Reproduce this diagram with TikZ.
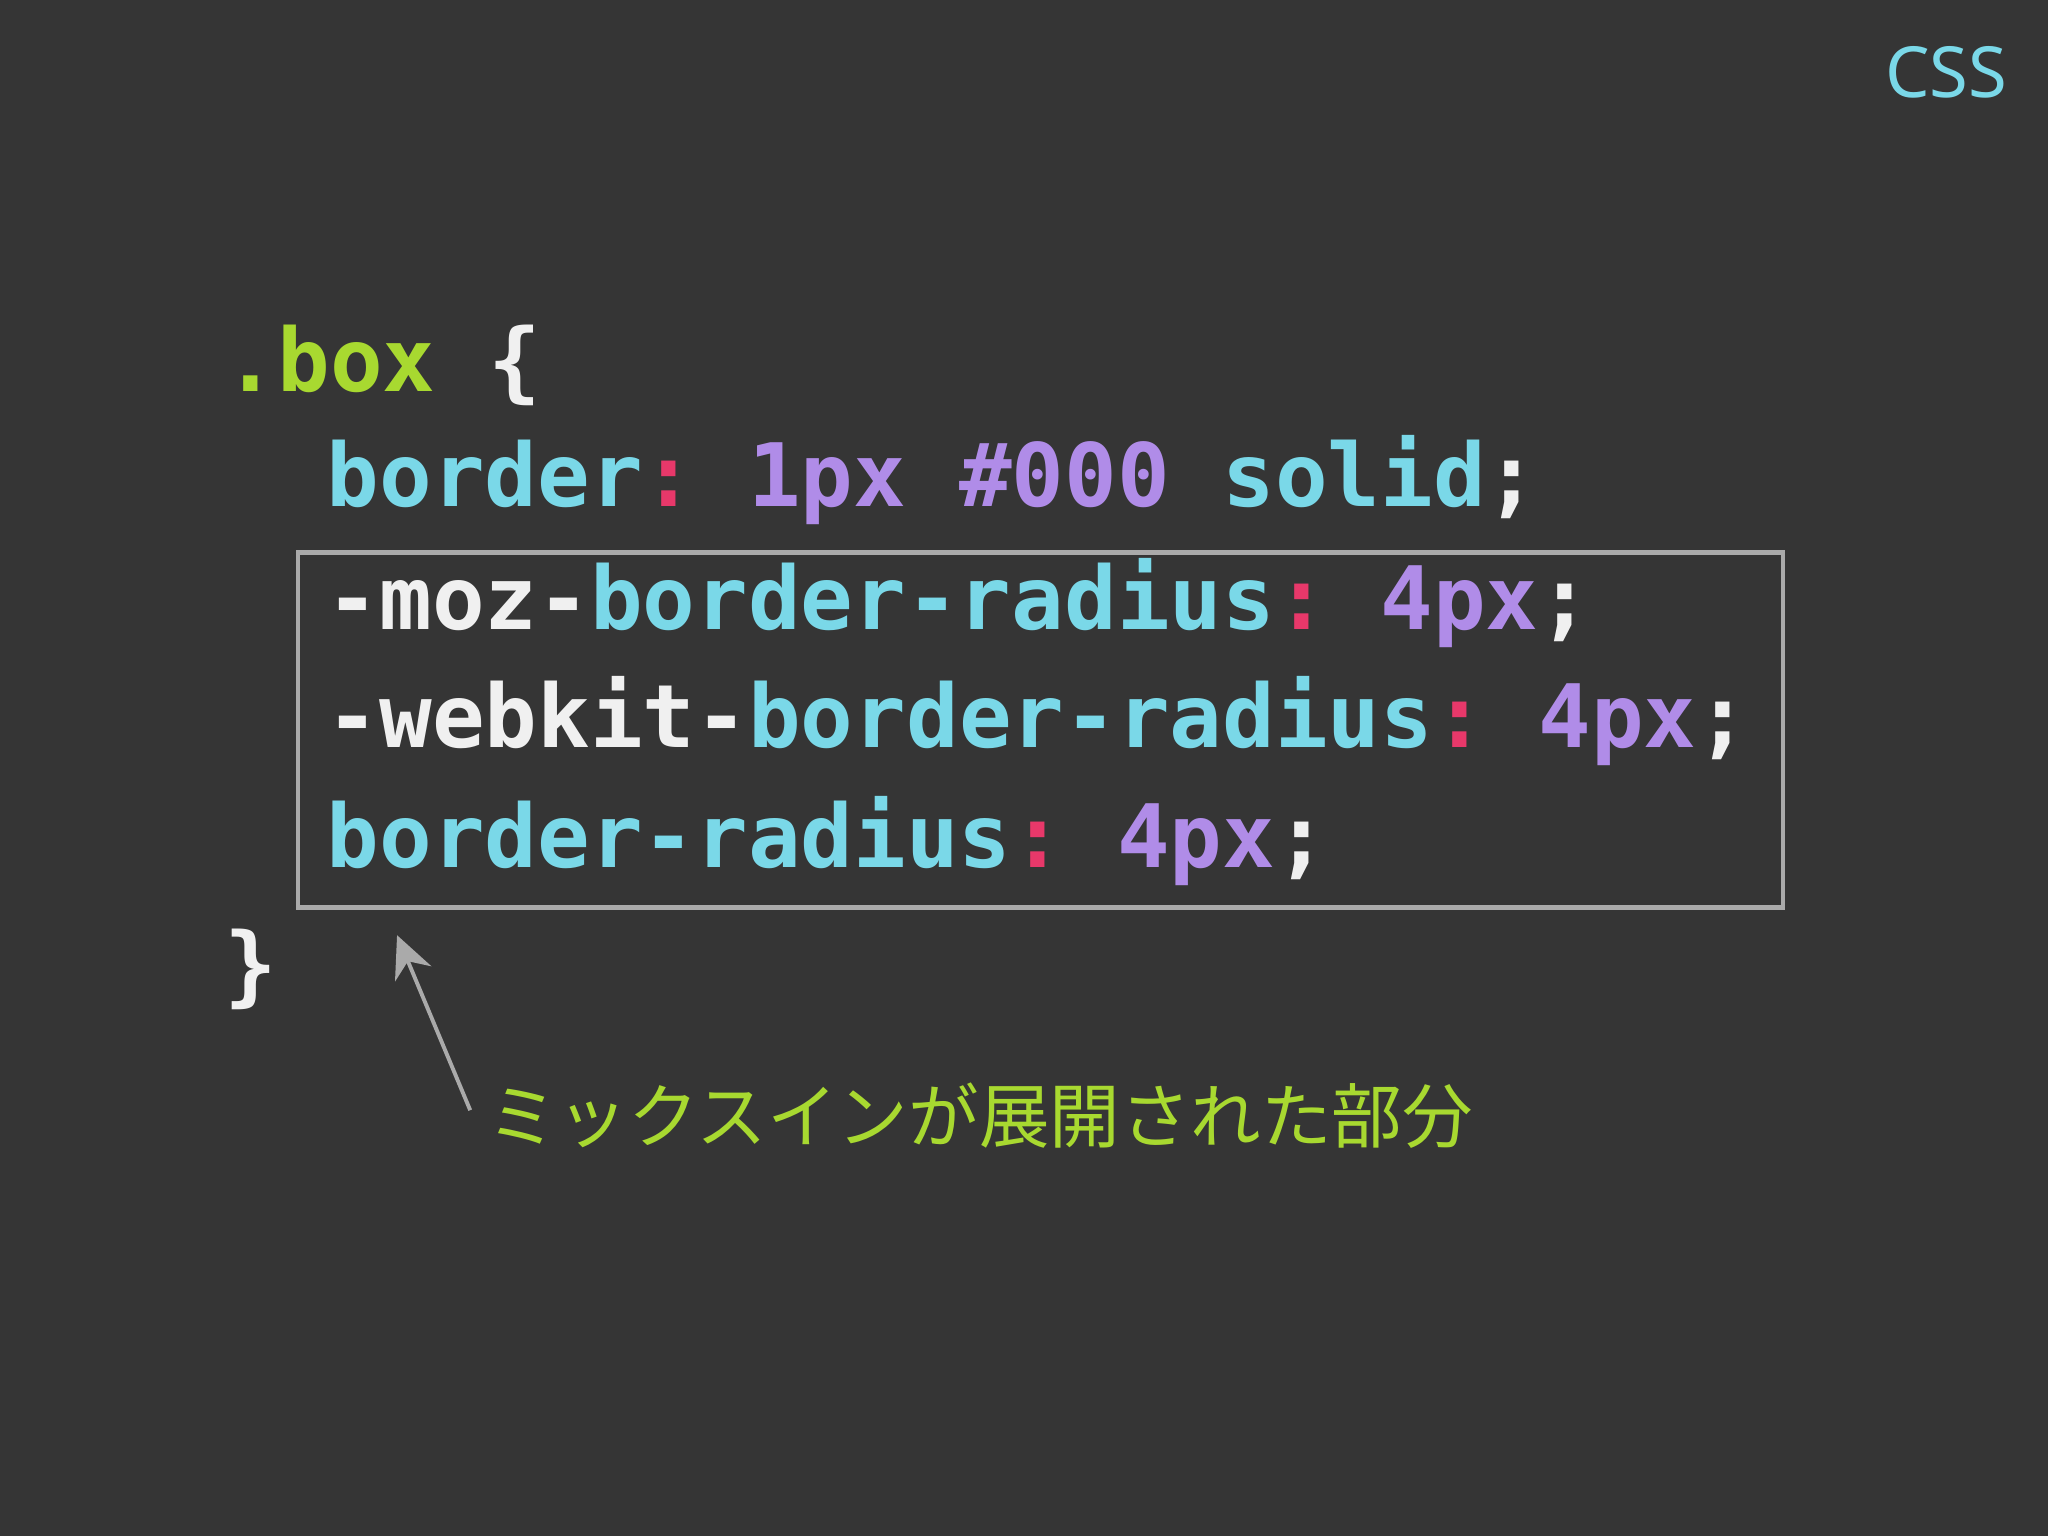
\documentclass[tikz,border=0pt]{standalone}
\usepackage{fontspec}
\setmonofont{DejaVu Sans Mono}
\newfontfamily\cjk{Noto Sans CJK JP}
\newfontfamily\sans{Noto Sans}
\definecolor{bg}{HTML}{353535}
\definecolor{cg}{HTML}{A8D930}
\definecolor{cc}{HTML}{7AD8E8}
\definecolor{cp}{HTML}{B08CE8}
\definecolor{ck}{HTML}{E8386A}
\definecolor{cw}{HTML}{F0F0F0}
\definecolor{cb}{HTML}{AAAAAA}
\usetikzlibrary{arrows.meta}
\begin{document}
\begin{tikzpicture}[x=1pt,y=-1pt,
  code/.style={anchor=base west,inner sep=0pt,font=\ttfamily\bfseries\fontsize{67}{67}\selectfont,text=cw}]
\fill[bg] (0,0) rectangle (1568,1176);
\useasboundingbox (0,0) rectangle (1568,1176);
\node[anchor=base east,inner sep=0pt,font=\sans\bfseries\fontsize{54}{54}\selectfont,text=cc] (css) at (1537,75) {CSS};
\node[code] (l1) at (172,300) {\textcolor{cg}{.box} \{};
\node[code] (l2) at (250,388) {\textcolor{cc}{border}\textcolor{ck}{:} \textcolor{cp}{1px} \textcolor{cp}{\#000} \textcolor{cc}{solid};};
\node[code] (l3) at (250,482) {-moz-\textcolor{cc}{border-radius}\textcolor{ck}{:} \textcolor{cp}{4px};};
\node[code] (l4) at (250,572) {-webkit-\textcolor{cc}{border-radius}\textcolor{ck}{:} \textcolor{cp}{4px};};
\node[code] (l5) at (250,664) {\textcolor{cc}{border-radius}\textcolor{ck}{:} \textcolor{cp}{4px};};
\node[code] (l6) at (172,762) {\}};
\node[draw=cb,line width=3.5pt,inner sep=0pt,minimum width=1137pt,minimum height=272pt] (box) at (796.5,559) {};
\node[anchor=base west,inner sep=0pt,font=\cjk\fontsize{54}{54}\selectfont,text=cg] (lab) at (373,875) {ミックスインが展開された部分};
\coordinate (a0) at (360,850);
\draw[cb,line width=3pt,-{Stealth[length=32pt,width=30pt]}] (a0) -- (304,716);
\end{tikzpicture}
\end{document}
